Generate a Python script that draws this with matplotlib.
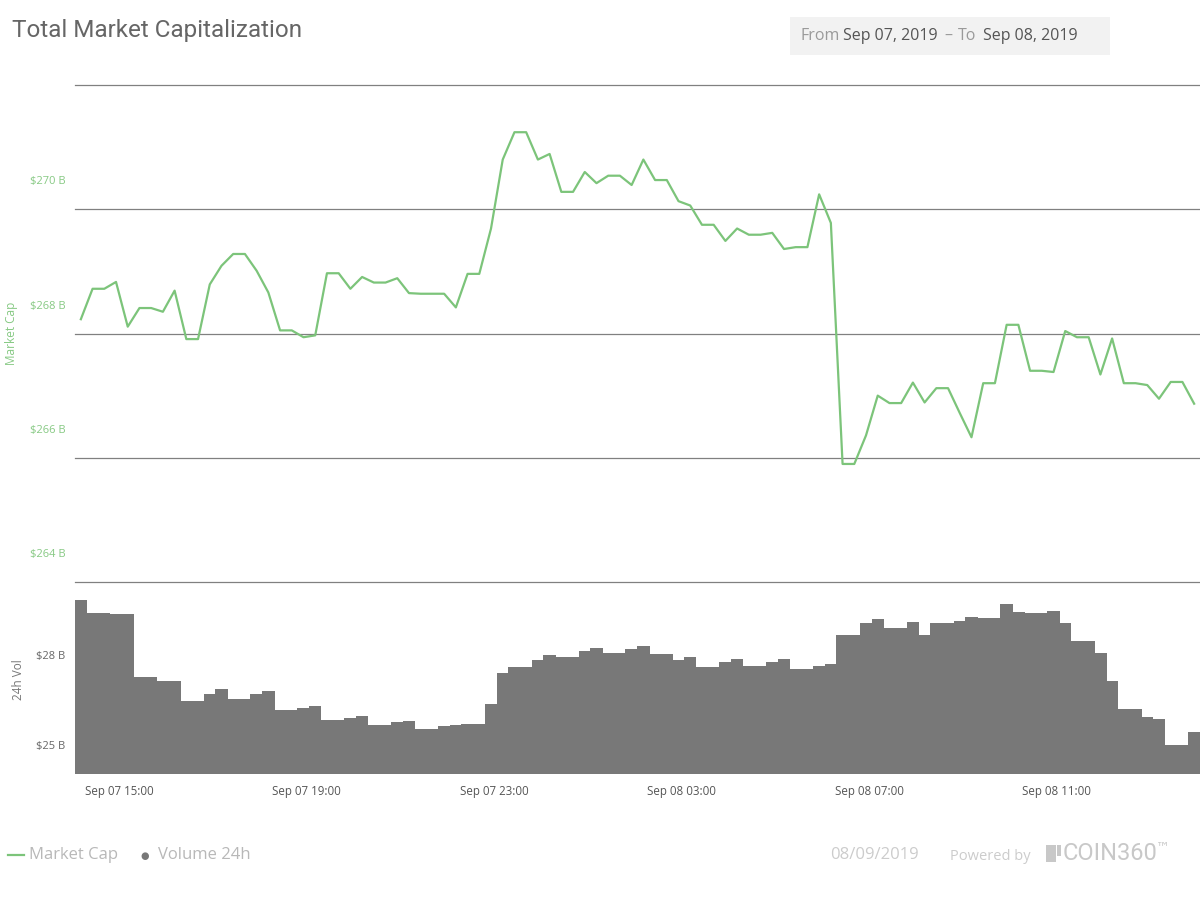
import matplotlib
matplotlib.use('Agg')
import matplotlib.pyplot as plt
import matplotlib.dates as mdates
import matplotlib.transforms as mtransforms
from matplotlib.patches import Rectangle
from matplotlib.lines import Line2D
import pandas as pd

# 15-minute samples, Sep 07 14:11 -> Sep 08 13:56
start_time = '2019-09-07 14:11'
n_points = 96

# total market cap, billions USD
market_cap = [
    268.23, 268.72, 268.72, 268.83, 268.11, 268.41, 268.41, 268.35, 268.69, 267.91,
    267.91, 268.79, 269.09, 269.28, 269.28, 269.01, 268.66, 268.05, 268.05, 267.94,
    267.97, 268.97, 268.97, 268.72, 268.91, 268.82, 268.82, 268.89, 268.65, 268.64,
    268.64, 268.64, 268.42, 268.96, 268.96, 269.69, 270.80, 271.24, 271.24, 270.80,
    270.89, 270.28, 270.28, 270.60, 270.42, 270.54, 270.54, 270.39, 270.80, 270.47,
    270.47, 270.13, 270.06, 269.75, 269.75, 269.49, 269.69, 269.59, 269.59, 269.62,
    269.36, 269.39, 269.39, 270.24, 269.78, 265.90, 265.90, 266.36, 267.00, 266.88,
    266.88, 267.21, 266.89, 267.12, 267.12, 266.72, 266.33, 267.20, 267.20, 268.14,
    268.14, 267.40, 267.40, 267.38, 268.04, 267.94, 267.94, 267.34, 267.92, 267.20,
    267.20, 267.17, 266.95, 267.22, 267.22, 266.87,
]

# 24h volume, billions USD
volume_24h = [
    30.81, 30.38, 30.38, 30.34, 30.34, 28.24, 28.24, 28.11, 28.11, 27.44,
    27.44, 27.68, 27.84, 27.51, 27.51, 27.68, 27.78, 27.14, 27.14, 27.21,
    27.28, 26.81, 26.81, 26.88, 26.94, 26.64, 26.64, 26.74, 26.78, 26.51,
    26.51, 26.61, 26.64, 26.68, 26.68, 27.34, 28.38, 28.58, 28.58, 28.81,
    28.98, 28.91, 28.91, 29.11, 29.21, 29.04, 29.04, 29.18, 29.28, 29.01,
    29.01, 28.81, 28.91, 28.58, 28.58, 28.74, 28.84, 28.61, 28.61, 28.74,
    28.84, 28.51, 28.51, 28.61, 28.68, 29.64, 29.64, 30.04, 30.18, 29.88,
    29.88, 30.08, 29.64, 30.04, 30.04, 30.11, 30.24, 30.21, 30.21, 30.68,
    30.41, 30.38, 30.38, 30.44, 30.04, 29.44, 29.44, 29.04, 28.11, 27.18,
    27.18, 26.91, 26.84, 25.98, 25.98, 26.41,
]

cap_ticks = [264, 266, 268, 270, 272]
cap_labels = ['$264 B', '$266 B', '$268 B', '$270 B', '']
vol_ticks = [25, 28]
vol_labels = ['$25 B', '$28 B']

GREEN = '#7cc47a'
GREEN_TXT = '#86c983'
BAR = '#787878'
GRID = '#808080'


def fx(x):
    return x / 1200


def fy(y):
    return 1 - y / 900


times = pd.date_range(start_time, periods=n_points, freq='15min')
x = mdates.date2num(times.to_pydatetime())
step = 15 / 1440

fig = plt.figure(figsize=(12, 9), dpi=100)
ax = fig.add_axes([fx(75), fy(582), 1125 / 1200, 497 / 900])
axv = fig.add_axes([fx(75), fy(774.3), 1125 / 1200, 192.3 / 900], sharex=ax)
ax.set_zorder(2)
ax.patch.set_visible(False)

# market cap line
ax.plot(x, market_cap, color=GREEN, lw=1.6)
ax.set_ylim(264, 272)
ax.set_yticks(cap_ticks)
ax.set_yticklabels(cap_labels)
ax.grid(axis='y', color=GRID, lw=0.9)
for gl in ax.get_ygridlines():
    gl.set_clip_on(False)
ax.tick_params(axis='y', length=0, pad=7, labelcolor=GREEN_TXT, labelsize=8)
ax.tick_params(axis='x', bottom=False, labelbottom=False)
for s in ax.spines.values():
    s.set_visible(False)

# volume bars (slight overlap so no seams show between columns)
axv.bar(x, volume_24h, width=step * 1.05, color=BAR, linewidth=0, antialiased=False,
        align='center')
axv.set_ylim(25, 25 + 192.3 / 30)
axv.set_yticks(vol_ticks)
axv.set_yticklabels(vol_labels)
axv.tick_params(axis='y', length=0, pad=7, labelcolor='#666666', labelsize=8)
axv.tick_params(axis='x', length=0, pad=8, labelcolor='#555555', labelsize=8.3)
axv.xaxis.set_major_locator(mdates.HourLocator(byhour=[3, 7, 11, 15, 19, 23]))
axv.xaxis.set_major_formatter(mdates.DateFormatter('%b %d %H:%M'))
for s in axv.spines.values():
    s.set_visible(False)
axv.set_xlim(x[0] - step / 2, x[-1] + step / 2)

# axis labels sit above their tick lines
off = mtransforms.ScaledTranslation(0, 0.29, fig.dpi_scale_trans)
for a in (ax, axv):
    for lab in a.get_yticklabels():
        lab.set_transform(lab.get_transform() + off)
        lab.set_fontfamily('Open Sans')
for lab in axv.get_xticklabels():
    lab.set_fontfamily('Open Sans')

fig.text(fx(12), fy(333), 'Market Cap', rotation=90, ha='center', va='center',
         color=GREEN_TXT, fontsize=8.5, family='Open Sans')
fig.text(fx(18), fy(680), '24h Vol', rotation=90, ha='center', va='center',
         color='#777777', fontsize=8.5, family='Open Sans')

# header
fig.text(fx(12), fy(31), 'Total Market Capitalization', ha='left', va='center',
         color='#666666', fontsize=17.5, family='Roboto')
fig.patches.append(Rectangle((fx(790), fy(55)), 320 / 1200, 38 / 900,
                             transform=fig.transFigure, facecolor='#f2f2f2',
                             edgecolor='none'))
hdr = [(800, 'From', '#9a9a9a'), (843, 'Sep 07, 2019', '#555555'),
       (944, '–', '#9a9a9a'), (958, 'To', '#9a9a9a'), (983, 'Sep 08, 2019', '#555555')]
for px, txt, col in hdr:
    fig.text(fx(px), fy(36), txt, ha='left', va='center', color=col,
             fontsize=11.5, family='Open Sans')

# footer legend
fig.lines.append(Line2D([fx(8), fx(24)], [fy(855), fy(855)], transform=fig.transFigure,
                        color=GREEN, lw=1.6))
fig.text(fx(29), fy(855), 'Market Cap', ha='left', va='center', color='#b8b8b8',
         fontsize=12, family='Open Sans')
fig.text(fx(145), fy(856), '●', ha='center', va='center', color='#787878',
         fontsize=7, family='DejaVu Sans')
fig.text(fx(158), fy(855), 'Volume 24h', ha='left', va='center', color='#b8b8b8',
         fontsize=12, family='Open Sans')
fig.text(fx(830), fy(855), '08/09/2019', ha='left', va='center', color='#cccccc',
         fontsize=12, family='Open Sans')
fig.text(fx(950), fy(856), 'Powered by', ha='left', va='center', color='#cccccc',
         fontsize=10.5, family='Open Sans')
fig.patches.append(Rectangle((fx(1046), fy(862)), 10 / 1200, 17 / 900,
                             transform=fig.transFigure, facecolor='#c8c8c8',
                             edgecolor='none'))
fig.patches.append(Rectangle((fx(1057), fy(856)), 4 / 1200, 11 / 900,
                             transform=fig.transFigure, facecolor='#c8c8c8',
                             edgecolor='none'))
fig.text(fx(1063), fy(854), 'COIN360', ha='left', va='center', color='#c8c8c8',
         fontsize=17, family='Roboto')
fig.text(fx(1156), fy(847), '™', ha='left', va='center', color='#c8c8c8',
         fontsize=10, family='DejaVu Sans')

fig.savefig('out.png', dpi=100)
